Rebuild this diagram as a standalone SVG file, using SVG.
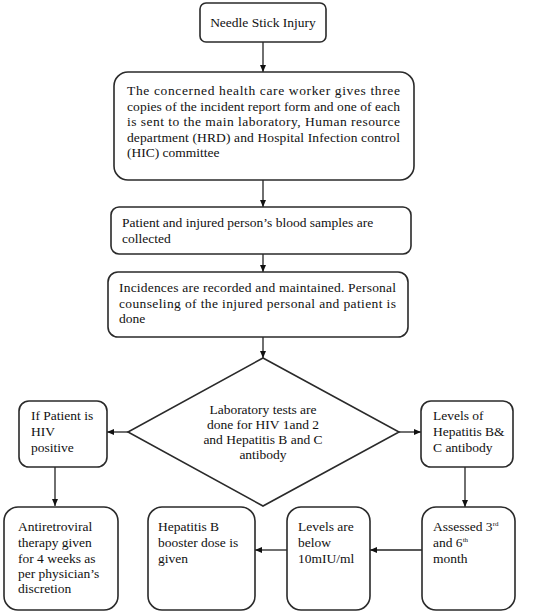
<svg xmlns="http://www.w3.org/2000/svg" width="537" height="614" viewBox="0 0 537 614">
<style>
.box{fill:#fff;stroke:#2a2a2a;stroke-width:1.6}
.t{font-family:"Liberation Serif","Times New Roman",serif;font-size:13.5px;fill:#111}
.c{text-anchor:middle}
.ln{stroke:#222;stroke-width:1.3;fill:none;marker-end:url(#ah)}
</style>
<defs>
<marker id="ah" markerUnits="userSpaceOnUse" markerWidth="8" markerHeight="8" refX="7" refY="3" orient="auto">
<path d="M0,0 L7,3 L0,6 z" fill="#111"/>
</marker>
</defs>
<rect width="537" height="614" fill="#fff"/>
<g id="connectors">
<line class="ln" x1="263" y1="42" x2="263" y2="72"/>
<line class="ln" x1="263" y1="180" x2="263" y2="207"/>
<line class="ln" x1="263" y1="254" x2="263" y2="272"/>
<line class="ln" x1="263" y1="337" x2="263" y2="358"/>
<line class="ln" x1="128" y1="432" x2="107" y2="432"/>
<line class="ln" x1="399" y1="432" x2="421" y2="432"/>
<line class="ln" x1="55" y1="467" x2="55" y2="506"/>
<line class="ln" x1="465" y1="467" x2="465" y2="507"/>
<line class="ln" x1="422" y1="550" x2="370" y2="550"/>
<line class="ln" x1="287" y1="550" x2="255" y2="550"/>
</g>
<g id="n1">
<rect class="box" x="200" y="3" width="126" height="39" rx="6"/>
<text class="t c" x="263" y="27">Needle Stick Injury</text>
</g>
<g id="n2">
<rect class="box" x="114" y="72" width="300" height="108" rx="14"/>
<text class="t" x="127" y="95" textLength="273" lengthAdjust="spacing">The concerned health care worker gives three</text>
<text class="t" x="127" y="111" textLength="273" lengthAdjust="spacing">copies of the incident report form and one of each</text>
<text class="t" x="127" y="126" textLength="273" lengthAdjust="spacing">is sent to the main laboratory, Human resource</text>
<text class="t" x="127" y="142" textLength="273" lengthAdjust="spacing">department (HRD) and Hospital Infection control</text>
<text class="t" x="127" y="157">(HIC) committee</text>
</g>
<g id="n3">
<rect class="box" x="111" y="207" width="300" height="47" rx="8"/>
<text class="t" x="122" y="227">Patient and injured person’s blood samples are</text>
<text class="t" x="122" y="243">collected</text>
</g>
<g id="n4">
<rect class="box" x="108" y="272" width="300" height="65" rx="10"/>
<text class="t" x="119" y="292" textLength="277" lengthAdjust="spacing">Incidences are recorded and maintained. Personal</text>
<text class="t" x="119" y="308" textLength="277" lengthAdjust="spacing">counseling of the injured personal and patient is</text>
<text class="t" x="119" y="323">done</text>
</g>
<g id="n5">
<polygon class="box" points="263,358 399,432 263,506 128,432"/>
<text class="t c" x="263" y="414">Laboratory tests are</text>
<text class="t c" x="263" y="429">done for HIV 1and 2</text>
<text class="t c" x="263" y="444">and Hepatitis B and C</text>
<text class="t c" x="263" y="459">antibody</text>
</g>
<g id="n6">
<rect class="box" x="19" y="401" width="88" height="66" rx="10"/>
<text class="t" x="31" y="420">If Patient is</text>
<text class="t" x="31" y="436">HIV</text>
<text class="t" x="31" y="452">positive</text>
</g>
<g id="n7">
<rect class="box" x="421" y="401" width="92" height="66" rx="10"/>
<text class="t" x="433" y="420">Levels of</text>
<text class="t" x="433" y="436">Hepatitis B&amp;</text>
<text class="t" x="433" y="452">C antibody</text>
</g>
<g id="n8">
<rect class="box" x="4" y="507" width="114" height="103" rx="14"/>
<text class="t" x="18" y="531">Antiretroviral</text>
<text class="t" x="18" y="547">therapy given</text>
<text class="t" x="18" y="563">for 4 weeks as</text>
<text class="t" x="18" y="578">per physician’s</text>
<text class="t" x="18" y="593">discretion</text>
</g>
<g id="n9">
<rect class="box" x="148" y="507" width="107" height="103" rx="14"/>
<text class="t" x="158" y="531">Hepatitis B</text>
<text class="t" x="158" y="547">booster dose is</text>
<text class="t" x="158" y="563">given</text>
</g>
<g id="n10">
<rect class="box" x="287" y="507" width="83" height="103" rx="14"/>
<text class="t" x="298" y="531">Levels are</text>
<text class="t" x="298" y="547">below</text>
<text class="t" x="298" y="563">10mIU/ml</text>
</g>
<g id="n11">
<rect class="box" x="422" y="507" width="93" height="103" rx="14"/>
<text class="t" x="433" y="531">Assessed 3<tspan font-size="7" dy="-5">rd</tspan></text>
<text class="t" x="433" y="547">and 6<tspan font-size="7" dy="-5">th</tspan></text>
<text class="t" x="433" y="563">month</text>
</g>
</svg>
